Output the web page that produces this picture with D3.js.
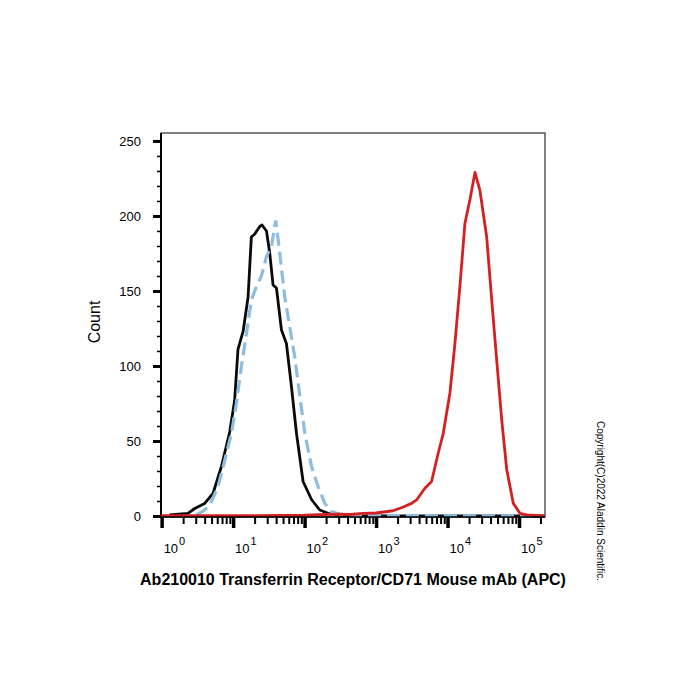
<!DOCTYPE html>
<html>
<head>
<meta charset="utf-8">
<script src="https://cdn.jsdelivr.net/npm/d3@7"></script>
<style>
  body { margin: 0; background: #fff; }
  svg { font-family: "Liberation Sans", Arial, sans-serif; }
</style>
</head>
<body>
<svg id="chart" width="700" height="700"></svg>
<script>
// Control (unstained) – black solid
const blackX = [1.29, 2.34, 2.90, 4.0, 5.23, 6.86, 8.96, 10.5, 11.7, 13.8, 16.2, 18.0, 20.1, 23.6, 25.4, 29.3, 32.6, 36.2, 40.4, 47.5, 55.7, 65.6, 77.1, 95.3, 125, 163, 213, 366, 231000];
const blackY = [0.7, 1.8, 5, 8.4, 15, 33, 56, 77, 111, 123, 146, 186, 188, 193, 194, 190, 175, 154, 152, 124, 115, 86, 55, 23, 11, 4, 1.8, 0.3, 0];

// Isotype – light blue dashed
const blueX = [3.06, 3.75, 4.70, 6.15, 7.63, 9.46, 11.1, 13.1, 15.4, 18.0, 21.2, 24.9, 29.3, 34.4, 39.5, 45.0, 52.8, 62.1, 72.9, 85.7, 101, 125, 155, 192, 238, 311, 420, 231000];
const blueY = [0.7, 3, 7, 19.5, 37, 55, 75, 100, 122, 144, 153, 160, 173, 180, 197, 175, 146, 126, 106, 80, 55, 33, 19.5, 8.4, 3, 1.2, 0.3, 0];

// Stained – red solid
const redX = [0.98, 20, 100, 200, 300, 430, 660, 1000, 1730, 2400, 3140, 3690, 4820, 5980, 7410, 8710, 10800, 12700, 14900, 17500, 20600, 24200, 28400, 35300, 41500, 48700, 57300, 67300, 83200, 103000, 128000, 231000];
const redY = [0.3, 0.3, 0.5, 1, 1.2, 1, 1.8, 2, 3.5, 6, 8.4, 10.7, 18.5, 23, 42, 55, 82, 115, 153, 195, 211, 229, 217, 186, 144, 104, 64, 31, 8.4, 1.8, 0.7, 0];

const yMajor = [0, 50, 100, 150, 200, 250];
const xDecades = [0, 1, 2, 3, 4, 5];

const svg = d3.select("#chart");

const plot = { left: 161, right: 545, top: 133, bottom: 517 };

const x = d3.scaleLog()
    .domain([0.98, 231000])
    .range([plot.left, plot.right]);

const y = d3.scaleLinear()
    .domain([0, 255.3])
    .range([plot.bottom - 1, plot.top]);

// frame
svg.append("rect")
    .attr("x", plot.left)
    .attr("y", plot.top)
    .attr("width", plot.right - plot.left)
    .attr("height", plot.bottom - plot.top)
    .attr("fill", "none")
    .attr("stroke", "#000")
    .attr("stroke-width", 1);

// y axis: minor then major
const yMinor = d3.range(0, 251, 10);
svg.append("g")
    .attr("transform", `translate(${plot.left},0)`)
    .call(d3.axisLeft(y).tickValues(yMinor).tickSize(4).tickFormat(""))
    .call(g => g.select(".domain").remove())
    .call(g => g.selectAll("line").attr("stroke-width", 1.5));

svg.append("g")
    .attr("transform", `translate(${plot.left},0)`)
    .call(d3.axisLeft(y).tickValues(yMajor).tickSize(8).tickPadding(12))
    .call(g => g.select(".domain").remove())
    .call(g => g.selectAll("line").attr("stroke-width", 3))
    .call(g => g.selectAll("text").attr("font-size", 13).attr("font-family", "Liberation Sans, Arial, sans-serif"));

svg.append("line")
    .attr("x1", plot.left).attr("x2", plot.left)
    .attr("y1", plot.top).attr("y2", plot.bottom)
    .attr("stroke", "#000").attr("stroke-width", 2);

// x axis
const xMinor = [];
xDecades.forEach(d => {
    for (let m = 2; m <= 9; m++) {
        const v = m * Math.pow(10, d);
        if (v <= 231000) xMinor.push(v);
    }
});
const xMajor = xDecades.map(d => Math.pow(10, d));

svg.append("g")
    .attr("transform", `translate(0,${plot.bottom})`)
    .call(d3.axisBottom(x).tickValues(xMinor).tickSize(7).tickFormat(""))
    .call(g => g.select(".domain").remove())
    .call(g => g.selectAll("line").attr("stroke-width", 2));

svg.append("g")
    .attr("transform", `translate(0,${plot.bottom})`)
    .call(d3.axisBottom(x).tickValues(xMajor).tickSize(11).tickFormat(""))
    .call(g => g.select(".domain").remove())
    .call(g => g.selectAll("line").attr("stroke-width", 3.5));

// x tick labels 10^n
const xl = svg.append("g");
xDecades.forEach(d => {
    const t = xl.append("text")
        .attr("x", x(Math.pow(10, d)) + 2)
        .attr("y", 553)
        .attr("font-size", 13)
        .attr("text-anchor", "start");
    t.append("tspan").text("10");
    t.append("tspan").attr("dy", -8).attr("font-size", 11).attr("dx", 1).text(d);
});

// curves
const line = d3.line()
    .x(d => x(d[0]))
    .y(d => y(d[1]));

const zip = (a, b) => a.map((v, i) => [v, b[i]]);

svg.append("path")
    .datum(zip(blackX, blackY))
    .attr("fill", "none")
    .attr("stroke", "#0a0a0a")
    .attr("stroke-width", 2.8)
    .attr("stroke-linejoin", "round")
    .attr("d", line);

svg.append("path")
    .datum(zip(blueX, blueY))
    .attr("fill", "none")
    .attr("stroke", "#8dbde0")
    .attr("stroke-width", 3.2)
    .attr("stroke-dasharray", "13,6")
    .attr("d", line);

svg.append("path")
    .datum(zip(redX, redY))
    .attr("fill", "none")
    .attr("stroke", "#d42020")
    .attr("stroke-width", 2.8)
    .attr("stroke-linejoin", "round")
    .attr("d", line);

// x axis baseline
svg.append("line")
    .attr("x1", plot.left).attr("x2", plot.right)
    .attr("y1", plot.bottom).attr("y2", plot.bottom)
    .attr("stroke", "#000").attr("stroke-width", 1.5);

// titles
svg.append("text")
    .attr("transform", "translate(100,322) rotate(-90)")
    .attr("text-anchor", "middle")
    .attr("font-size", 16)
    .text("Count");

svg.append("text")
    .attr("x", 353)
    .attr("y", 585)
    .attr("text-anchor", "middle")
    .attr("font-size", 16)
    .attr("font-weight", "bold")
    .text("Ab210010 Transferrin Receptor/CD71 Mouse mAb (APC)");

svg.append("text")
    .attr("transform", "translate(597,501) rotate(90)")
    .attr("text-anchor", "middle")
    .attr("font-size", 10)
    .text("Copyright(C)2022 Aladdin Scientific.");
</script>
</body>
</html>
